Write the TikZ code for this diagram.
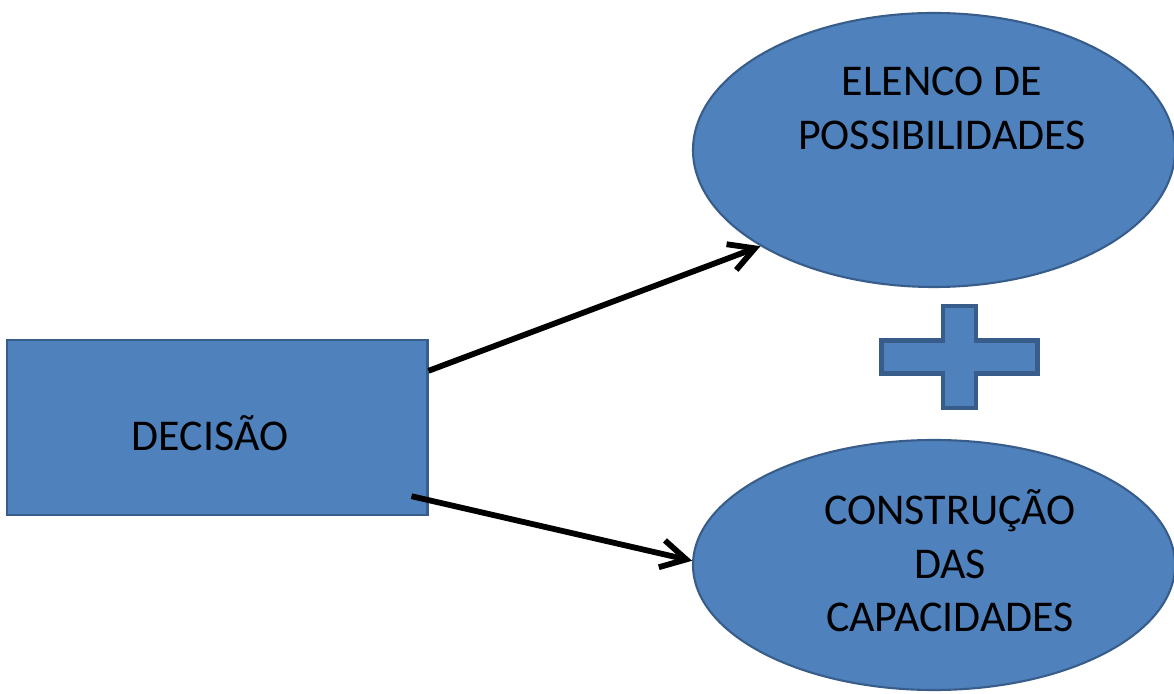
\documentclass[tikz,border=0pt]{standalone}
\usepackage{fontspec}
\setmainfont{Carlito}
\usetikzlibrary{shapes.geometric,arrows.meta}
\definecolor{boxblue}{HTML}{4F81BD}
\definecolor{edgeblue}{HTML}{385D8A}
\begin{document}
\begin{tikzpicture}[
  blob/.style={fill=boxblue,draw=edgeblue,line width=1.2pt},
  txt/.style={font=\fontsize{25}{30.5}\selectfont,align=center,inner sep=0pt},
  link/.style={line width=3.3pt,-{Straight Barb[length=5mm,width=5.5mm]}}]
\useasboundingbox (0,0) rectangle (23.48,13.86);
\node[blob,rectangle,line width=1.7pt,minimum width=8.4cm,minimum height=3.5cm] (dec) at (4.34,5.31) {};
\node[txt] (decTxt) at (4.2,5.19) {DECISÃO};
\node[blob,ellipse,minimum width=9.64cm,minimum height=5.48cm] (poss) at (18.68,10.86) {};
\node[blob,ellipse,minimum width=9.64cm,minimum height=5.0cm] (cap) at (18.68,2.56) {};
\node[txt] (possTxt) at (18.84,11.69) {ELENCO DE\\POSSIBILIDADES};
\node[txt] (capTxt) at (19.0,2.64) {CONSTRUÇÃO\\DAS\\CAPACIDADES};
\coordinate (plus) at (19.19,6.72);
\draw[blob,line width=2.6pt] ([shift={(-1.56,0.33)}]plus) -- ++(1.23,0) -- ++(0,0.69) -- ++(0.66,0) -- ++(0,-0.69) -- ++(1.23,0) -- ++(0,-0.66) -- ++(-1.23,0) -- ++(0,-0.69) -- ++(-0.66,0) -- ++(0,0.69) -- ++(-1.23,0) -- cycle;
\draw[link] (dec.15) -- (poss.209);
\draw[link] ([xshift=-3.4mm]dec.-18) -- (cap.179);
\end{tikzpicture}
\end{document}
